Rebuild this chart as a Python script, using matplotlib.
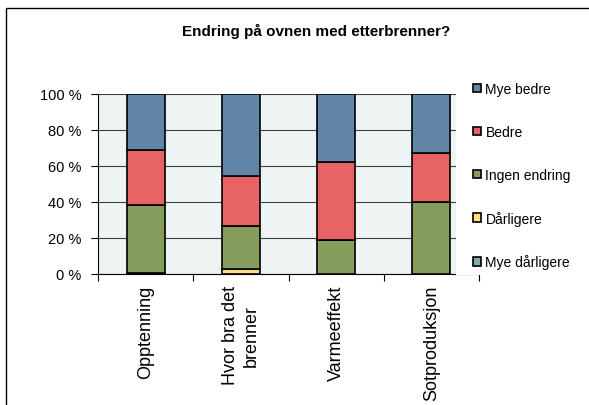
import matplotlib.pyplot as plt
from matplotlib.patches import Rectangle, Patch

plt.rcParams['font.family'] = ['Liberation Sans', 'DejaVu Sans']

categories = ['Opptenning', 'Hvor bra det\nbrenner', 'Varmeeffekt', 'Sotproduksjon']
series = ['Mye dårligere', 'Dårligere', 'Ingen endring', 'Bedre', 'Mye bedre']
mye_darligere = [0.0, 0.0, 0.0, 0.0]
darligere = [0.8, 2.6, 0.0, 0.0]
ingen_endring = [37.3, 24.3, 18.9, 40.2]
bedre = [30.9, 27.5, 43.3, 26.8]
mye_bedre = [31.0, 45.6, 37.8, 33.0]
colors = ['#84AAAA', '#FFE080', '#869E5D', '#E86464', '#6085A6']
values = [mye_darligere, darligere, ingen_endring, bedre, mye_bedre]

W, H = 589, 406
fig = plt.figure(figsize=(W / 100, H / 100), dpi=100)
ax = fig.add_axes([98 / W, (H - 275) / H, (479 - 98) / W, 180 / H])
ax.set_facecolor('#EEF3F3')

x = list(range(len(categories)))
bottom = [0.0] * len(categories)
for name, vals, c in zip(series, values, colors):
    ax.bar(x, vals, width=0.4, bottom=bottom, color=c, edgecolor='black',
           linewidth=1.2, label=name, zorder=3)
    bottom = [b + v for b, v in zip(bottom, vals)]

ax.set_xlim(-0.5, 3.5)
ax.set_ylim(0, 100)
ax.set_yticks(range(0, 101, 20))
ax.set_yticklabels([f'{v} %' for v in range(0, 101, 20)], fontsize=10.5)
ax.yaxis.grid(True, color='#404040', linewidth=0.8, zorder=0)
ax.set_xticks([-0.5, 0.5, 1.5, 2.5, 3.5])
ax.set_xticklabels([])
ax.set_xticks(x, minor=True)
ax.set_xticklabels(categories, minor=True, rotation=90, fontsize=13,
                   ha='center', va='top', multialignment='center',
                   linespacing=1.35)
ax.tick_params(axis='x', which='minor', length=0, pad=8)
ax.tick_params(axis='both', which='major', length=5, width=0.8, direction='out')
ax.tick_params(axis='y', pad=7)
for s in ['top', 'right']:
    ax.spines[s].set_visible(False)
ax.spines['left'].set_linewidth(0.8)
ax.spines['bottom'].set_linewidth(0.8)

# white area behind the legend covers part of the plot
fig.patches.append(Rectangle((456 / W, (H - 276) / H), (W - 456) / W, 190 / H,
                             transform=fig.transFigure, facecolor='white',
                             edgecolor='none', zorder=1))
# chart frame
fig.patches.append(Rectangle((6 / W, -0.05), 1.0, 1 - 9 / H + 0.05,
                             transform=fig.transFigure, facecolor='none',
                             edgecolor='black', linewidth=1, zorder=2))

fig.text(316 / W, 1 - 31 / H, 'Endring på ovnen med etterbrenner?', ha='center',
         va='center', fontsize=11, fontweight='bold')

handles = [Patch(facecolor=c, edgecolor='black', linewidth=1.2) for c in colors]
leg = fig.legend(handles[::-1], series[::-1], loc='upper left',
                 bbox_to_anchor=(466 / W, 1 - 76 / H), frameon=False,
                 fontsize=10, handlelength=0.55, handleheight=0.55,
                 handletextpad=0.35, labelspacing=2.08, borderpad=0)
leg.set_zorder(5)

fig.savefig('out.png', dpi=100)
